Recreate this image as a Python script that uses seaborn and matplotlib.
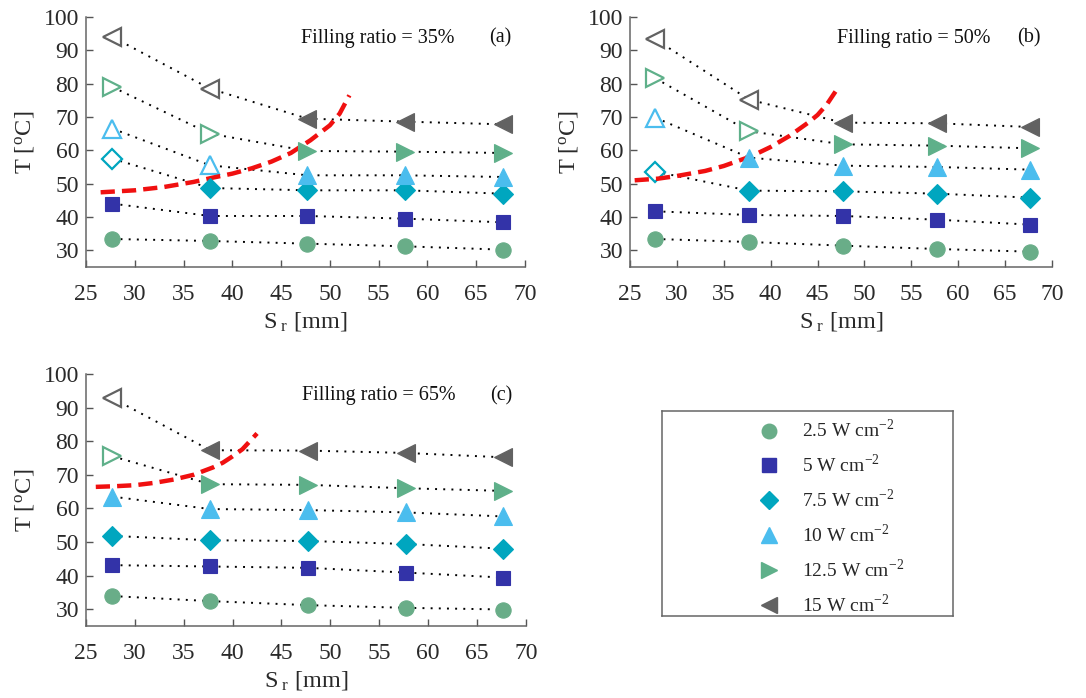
import pandas as pd
import matplotlib
matplotlib.use('Agg')
import matplotlib.pyplot as plt
from matplotlib.lines import Line2D
import seaborn as sns

# spacing values [mm]
sr = [27.7, 37.7, 47.7, 57.7, 67.7]
fluxes = ['2.5', '5', '7.5', '10', '12.5', '15']

# temperature [C] per heat flux, one list per filling ratio
temps_35 = {
    '2.5': [33.4, 32.8, 32.0, 31.2, 30.2],
    '5': [44.0, 40.3, 40.3, 39.5, 38.4],
    '7.5': [57.5, 48.7, 48.0, 48.0, 47.0],
    '10': [66.5, 55.5, 52.5, 52.5, 52.0],
    '12.5': [79.0, 65.0, 59.8, 59.6, 59.2],
    '15': [94.0, 78.5, 69.5, 68.6, 67.8],
}
temps_50 = {
    '2.5': [33.4, 32.5, 31.4, 30.4, 29.6],
    '5': [41.7, 40.6, 40.3, 39.2, 37.7],
    '7.5': [53.6, 47.9, 47.7, 47.0, 45.8],
    '10': [69.8, 57.8, 55.4, 55.0, 54.2],
    '12.5': [81.6, 65.7, 61.8, 61.4, 60.6],
    '15': [93.3, 75.2, 68.3, 68.1, 67.0],
}
temps_65 = {
    '2.5': [33.9, 32.4, 31.2, 30.4, 29.9],
    '5': [43.1, 42.7, 42.3, 40.9, 39.4],
    '7.5': [51.8, 50.5, 50.3, 49.4, 48.0],
    '10': [63.5, 59.8, 59.5, 58.8, 57.6],
    '12.5': [75.5, 67.2, 67.0, 66.0, 65.2],
    '15': [92.8, 77.3, 77.2, 76.5, 75.2],
}
# how many points (from the left) are drawn as open markers
open_35 = [0, 0, 1, 2, 2, 2]
open_50 = [0, 0, 1, 1, 2, 2]
open_65 = [0, 0, 0, 0, 1, 1]

# red dashed transition curves
curve_35_x = [26.5, 30, 33, 36, 38, 40, 42, 44, 46, 48, 50, 51, 52]
curve_35_y = [47.4, 48.0, 49.0, 50.5, 51.8, 53.0, 54.6, 56.6, 59.2, 63.0, 67.5, 71.0, 76.5]
curve_50_x = [25.5, 28, 30, 33, 35, 38, 40, 42, 44, 45, 46, 47]
curve_50_y = [51.0, 51.5, 52.3, 53.8, 55.3, 58.3, 61.0, 64.3, 68.3, 70.6, 73.8, 78.0]
curve_65_x = [26, 28, 30, 32, 34, 36, 38, 39, 40, 41, 42.5]
curve_65_y = [66.4, 66.6, 66.9, 67.6, 68.6, 70.0, 72.2, 73.6, 75.5, 77.6, 82.3]

ratios = ['35%', '50%', '65%']
panel_tags = ['(a)', '(b)', '(c)']

colors = ['#69ad88', '#3333a8', '#00a6bf', '#4bbdee', '#5fb08a', '#626262']
markers = ['o', 's', 'D', '^', '>', '<']
msizes = [11, 10.5, 10, 12.5, 12.5, 12.5]

sns.set_style('white')
plt.rcParams['font.family'] = ['Liberation Serif', 'DejaVu Serif']
plt.rcParams['mathtext.fontset'] = 'stix'

fig = plt.figure(figsize=(10.86, 6.98), dpi=100)
axes = [
    fig.add_axes([0.0792, 0.6175, 0.4042, 0.3582]),
    fig.add_axes([0.5801, 0.6175, 0.3886, 0.3582]),
    fig.add_axes([0.0792, 0.1032, 0.4050, 0.3610]),
]

panels = [
    (temps_35, open_35, curve_35_x, curve_35_y),
    (temps_50, open_50, curve_50_x, curve_50_y),
    (temps_65, open_65, curve_65_x, curve_65_y),
]

for k, (ax, (temps, n_open, cx, cy)) in enumerate(zip(axes, panels)):
    rows = []
    for f in fluxes:
        for x, t in zip(sr, temps[f]):
            rows.append({'Sr': x, 'T': t, 'flux': f})
    df = pd.DataFrame(rows)

    # dotted connecting lines
    sns.lineplot(data=df, x='Sr', y='T', units='flux', estimator=None,
                 color='black', lw=1.4, linestyle=(0, (1, 3.2)), ax=ax,
                 legend=False, zorder=2)

    # red dashed curve
    curve = pd.DataFrame({'x': cx, 'y': cy})
    sns.lineplot(data=curve, x='x', y='y', color='#f01010', lw=3.2,
                 linestyle=(0, (3.2, 1.6)), ax=ax, sort=False, zorder=4)

    # markers
    for i, f in enumerate(fluxes):
        sub = df[df['flux'] == f].reset_index(drop=True)
        for j in range(len(sub)):
            if j < n_open[i]:
                ax.plot(sub['Sr'][j], sub['T'][j], marker=markers[i],
                        ms=msizes[i], mfc='white', mec=colors[i], mew=1.6,
                        zorder=3, clip_on=False)
            else:
                ax.plot(sub['Sr'][j], sub['T'][j], marker=markers[i],
                        ms=msizes[i], mfc=colors[i], mec=colors[i], mew=0.8,
                        zorder=5, clip_on=False)

    ax.set_xlim(25, 70)
    ax.set_ylim(25, 100)
    ax.set_xticks(range(25, 71, 5))
    ax.set_yticks(range(30, 101, 10))
    ax.tick_params(bottom=True, left=True, direction='in', length=5, width=1,
                   colors='#555555', labelcolor='#2a2a2a', labelsize=17, pad=5)
    ax.tick_params(axis='x', pad=12)
    for s in ['top', 'right']:
        ax.spines[s].set_visible(False)
    for s in ['left', 'bottom']:
        ax.spines[s].set_color('#666666')
        ax.spines[s].set_linewidth(1.1)
    ax.set_xlabel(r'S$_{\ \mathregular{r}}$ [mm]', fontsize=17.5, color='#2a2a2a', labelpad=4)
    ax.set_ylabel(r'T [$^{\mathregular{o}}$C]', fontsize=17.5, color='#2a2a2a', labelpad=4)

    ax.text(0.49, 0.915, 'Filling ratio = ' + ratios[k], transform=ax.transAxes,
            fontsize=14.5, va='center', ha='left', color='#111111')
    ax.text(0.918, 0.915, panel_tags[k], transform=ax.transAxes,
            fontsize=14.5, va='center', ha='left', color='#111111')

# legend box
lax = fig.add_axes([662 / 1086, 1 - 616 / 698, 291 / 1086, 205 / 698])
lax.set_xticks([])
lax.set_yticks([])
for s in lax.spines.values():
    s.set_color('#666666')
    s.set_linewidth(1.1)
handles = [Line2D([], [], ls='none', marker=markers[i], ms=msizes[i] * 0.95,
                  mfc=colors[i], mec=colors[i]) for i in range(len(fluxes))]
labels = [f + r' W cm$^{\mathregular{-2}}$' for f in fluxes]
lax.legend(handles, labels, loc='center left', frameon=False, fontsize=14,
           labelspacing=0.66, handletextpad=0.9, handlelength=1.6,
           bbox_to_anchor=(0.255, 0.48))

fig.savefig('out.png', dpi=100)
